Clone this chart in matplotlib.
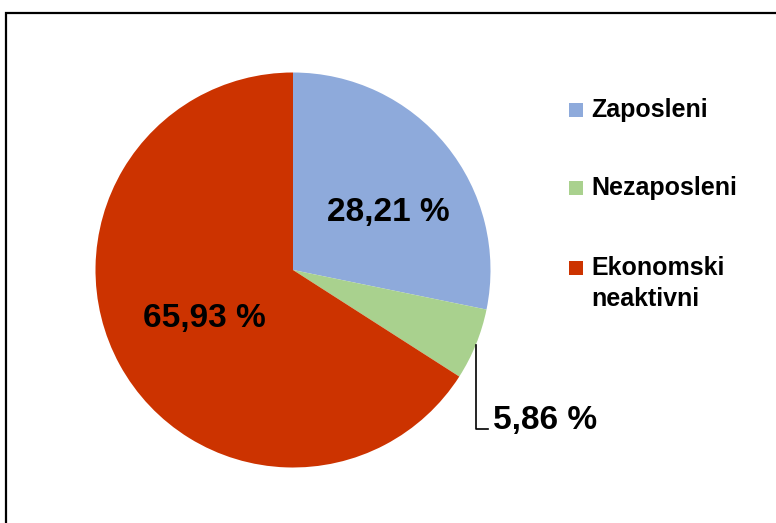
import matplotlib
matplotlib.use("Agg")
import matplotlib.pyplot as plt
from matplotlib.patches import Rectangle

categories = ["Zaposleni", "Nezaposleni", "Ekonomski\nneaktivni"]
values = [28.21, 5.86, 65.93]
labels = ["28,21 %", "5,86 %", "65,93 %"]
colors = ["#8eaadb", "#a9d18e", "#cc3300"]

W, H = 776, 523
fig = plt.figure(figsize=(W / 100, H / 100), dpi=100)
ax = fig.add_axes([0, 0, 1, 1])

def py(y):
    return H - y

FONT = "Liberation Sans"

cx, cy, r = 293, 270, 197.5
ax.pie(values, colors=colors, startangle=90, counterclock=False,
       center=(cx, py(cy)), radius=r, frame=True,
       wedgeprops=dict(linewidth=0))
ax.set_xlim(0, W)
ax.set_ylim(0, H)
ax.set_aspect("equal")
ax.axis("off")

# frame
ax.add_patch(Rectangle((5.5, py(600)), 800, 600 - 12.5, fill=False,
                       edgecolor="black", linewidth=1.6, zorder=0))

# data labels
ax.text(388, py(213), labels[0], fontsize=24, fontfamily=FONT, fontweight="bold",
        ha="center", va="center", color="black")
ax.text(204, py(318), labels[2], fontsize=24, fontfamily=FONT, fontweight="bold",
        ha="center", va="center", color="black")
ax.text(493, py(420), labels[1], fontsize=24, fontfamily=FONT, fontweight="bold",
        ha="left", va="center", color="black")
ax.plot([476, 476, 488], [py(345), py(429), py(429)], color="black", linewidth=1.2)

# legend
leg_y = [110, 188, 268]
for c, name, y in zip(colors, categories, leg_y):
    ax.add_patch(Rectangle((569, py(y) - 7), 14, 14, facecolor=c, edgecolor="none"))
    for i, line in enumerate(name.split("\n")):
        ax.text(591, py(y + 31 * i), line, fontsize=18, fontfamily=FONT,
                fontweight="bold", ha="left", va="center", color="black")

fig.savefig("out.png", dpi=100)
